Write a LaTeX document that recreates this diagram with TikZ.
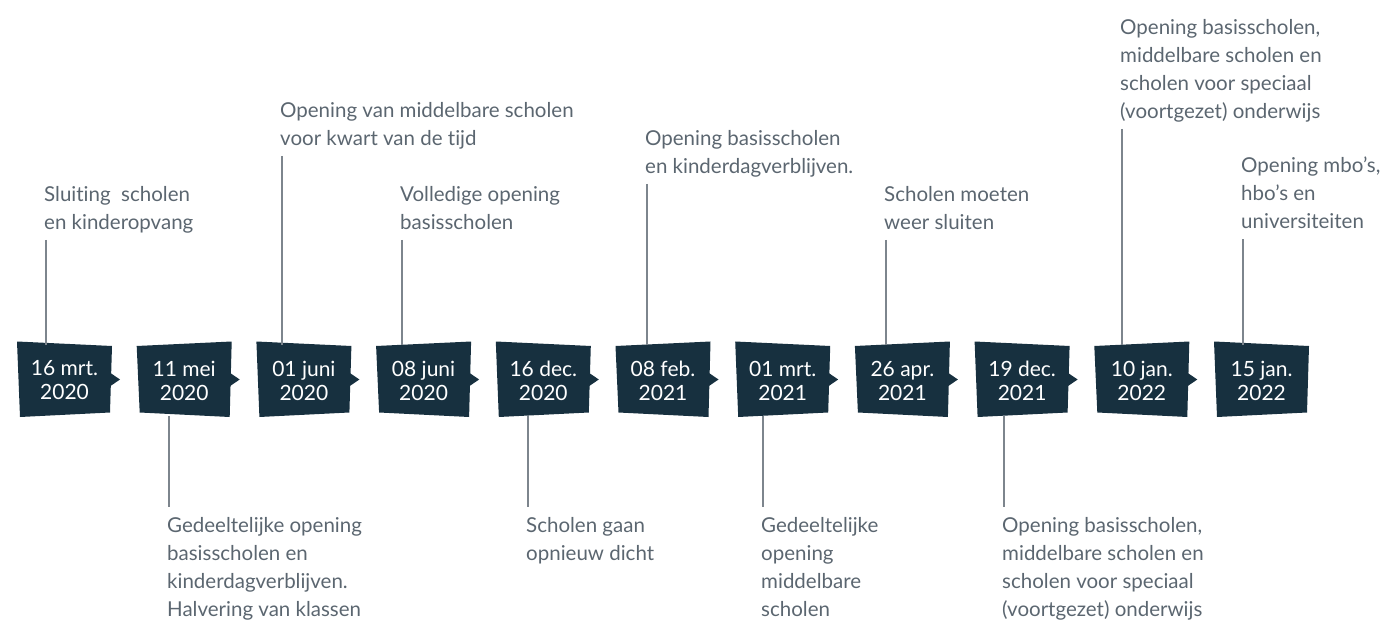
\documentclass[tikz,border=0pt]{standalone}
\usepackage{fontspec}
\setmainfont{Lato}[Ligatures=NoCommon]

\definecolor{navy}{HTML}{17303F}
\definecolor{tekst}{HTML}{5B6670}
\definecolor{lijn}{HTML}{7D858D}

\tikzset{
  datum/.style={minimum width=95pt, minimum height=71pt, inner sep=0pt,
    align=center, text=white, font=\fontsize{21}{24}\selectfont},
  uitleg/.style={anchor=north west, inner sep=0pt, align=left, text=tekst,
    font=\fontsize{20.5}{28}\selectfont,
    execute at begin node=\strut, execute at end node=\strut},
  tak/.style={draw=lijn, line width=1.1pt}
}

\begin{document}
\begin{tikzpicture}[x=1pt, y=-1pt]
  \useasboundingbox (0,0) rectangle (1386,620);

  % --- 1. datumblokken met pijltjes ---
  \foreach \d [count=\i from 0] in {{16 mrt.\\2020},{11 mei\\2020},{01 juni\\2020},
      {08 juni\\2020},{16 dec.\\2020},{08 feb.\\2021},{01 mrt.\\2021},
      {26 apr.\\2021},{19 dec.\\2021},{10 jan.\\2022},{15 jan.\\2022}} {
    \pgfmathsetmacro{\xo}{17+119.7*\i}
    \pgfmathsetmacro{\t}{mod(\i,2)==0 ? 2.25 : -2.25}
    \fill[navy] (\xo,343.75-\t) -- (\xo+95,343.75+\t) -- (\xo+93,414.75-\t)
      -- (\xo+3,414.75+\t) -- cycle;
    \ifnum\i<10
      \fill[navy] (\xo+92,372) -- (\xo+103,379.5) -- (\xo+92,387) -- cycle;
    \fi
    \node[datum] (d\i) at (\xo+47.5,380.5) {\d};
  }

  % --- 2. teksten boven de tijdlijn ---
  \node[uitleg] (l0) at (44,186) {Sluiting\ \ scholen\\en kinderopvang};
  \node[uitleg] (l2) at (280,102) {Opening van middelbare scholen\\voor kwart van de tijd};
  \node[uitleg] (l3) at (400,186) {Volledige opening\\basisscholen};
  \node[uitleg] (l5) at (645,130) {Opening basisscholen\\en kinderdagverblijven.};
  \node[uitleg] (l7) at (884,186) {Scholen moeten\\weer sluiten};
  \node[uitleg] (l9) at (1120,19) {Opening basisscholen,\\middelbare scholen en\\scholen voor speciaal\\(voortgezet) onderwijs};
  \node[uitleg] (l10) at (1241,157) {Opening mbo’s,\\hbo’s en\\universiteiten};

  % --- 3. teksten onder de tijdlijn ---
  \node[uitleg] (l1) at (167,517) {Gedeeltelijke opening\\basisscholen en\\kinderdagverblijven.\\Halvering van klassen};
  \node[uitleg] (l4) at (526,517) {Scholen gaan\\opnieuw dicht};
  \node[uitleg] (l6) at (761,517) {Gedeeltelijke\\opening\\middelbare\\scholen};
  \node[uitleg] (l8) at (1002,517) {Opening basisscholen,\\middelbare scholen en\\scholen voor speciaal\\(voortgezet) onderwijs};

  % --- 4. verbindingslijnen ---
  \foreach \i in {0,2,3,5,7,9,10} {
    \path (l\i.south west) ++(2,2) coordinate (t\i);
    \draw[tak] (t\i) -- (t\i |- d\i.north);
  }
  \foreach \i in {1,4,6,8} {
    \path (l\i.north west) ++(2,-10) coordinate (b\i);
    \draw[tak] (d\i.south -| b\i) -- (b\i);
  }

\end{tikzpicture}
\end{document}
